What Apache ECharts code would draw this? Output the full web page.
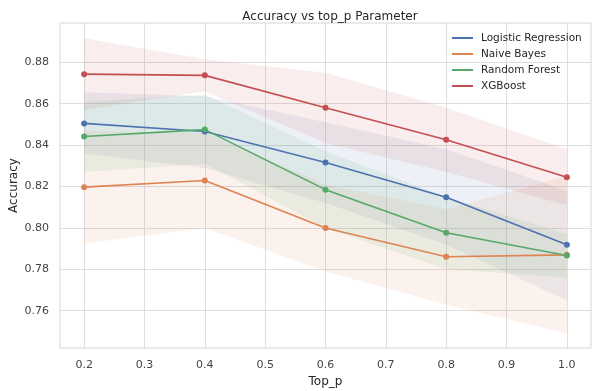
<!DOCTYPE html>
<html>
<head>
<meta charset="utf-8">
<script src="https://cdn.jsdelivr.net/npm/echarts@6/dist/echarts.min.js"></script>
<style>
  html, body { margin: 0; padding: 0; background: #fff; }
  #chart { width: 592px; height: 391px; }
</style>
</head>
<body>
<div id="chart"></div>
<script>
// x values (top_p)
const topP = [0.2, 0.4, 0.6, 0.8, 1.0]
const xTicks = [0.2, 0.3, 0.4, 0.5, 0.6, 0.7, 0.8, 0.9, 1.0]
const yTicks = [0.76, 0.78, 0.80, 0.82, 0.84, 0.86, 0.88]

// mean accuracy per model
const lrMean = [0.8505, 0.8466, 0.8316, 0.8148, 0.7919]
const nbMean = [0.8197, 0.8229, 0.8000, 0.7861, 0.7870]
const rfMean = [0.8442, 0.8475, 0.8185, 0.7977, 0.7867]
const xgbMean = [0.8743, 0.8737, 0.8581, 0.8426, 0.8245]

// confidence band bounds
const lrLow = [0.8360, 0.8290, 0.8120, 0.7920, 0.7650]
const lrHigh = [0.8655, 0.8636, 0.8510, 0.8380, 0.8180]
const nbLow = [0.7925, 0.8000, 0.7790, 0.7630, 0.7490]
const nbHigh = [0.8470, 0.8460, 0.8210, 0.8090, 0.8250]
const rfLow = [0.8270, 0.8310, 0.8000, 0.7800, 0.7760]
const rfHigh = [0.8610, 0.8645, 0.8370, 0.8150, 0.7970]
const xgbLow = [0.8570, 0.8660, 0.8410, 0.8270, 0.8110]
const xgbHigh = [0.8916, 0.8815, 0.8750, 0.8580, 0.8380]

const models = [
    { name: 'Logistic Regression', color: '#4c72b0', mean: lrMean, low: lrLow, high: lrHigh },
    { name: 'Naive Bayes', color: '#dd8452', mean: nbMean, low: nbLow, high: nbHigh },
    { name: 'Random Forest', color: '#55a868', mean: rfMean, low: rfLow, high: rfHigh },
    { name: 'XGBoost', color: '#c44e52', mean: xgbMean, low: xgbLow, high: xgbHigh }
]

const font = 'DejaVu Sans'
const chart = echarts.init(document.getElementById('chart'))

function bandSeries (m) {
    const data = topP.map((x, i) => [x, m.low[i], m.high[i]])
    return {
        type: 'custom',
        name: m.name + ' band',
        silent: true,
        clip: true,
        z: 1,
        data: data,
        encode: { x: 0, y: [1, 2] },
        renderItem (params, api) {
            if (params.dataIndex !== 0) return
            const upper = data.map(d => api.coord([d[0], d[2]]))
            const lower = data.map(d => api.coord([d[0], d[1]])).reverse()
            return {
                type: 'polygon',
                shape: { points: upper.concat(lower) },
                style: { fill: m.color, opacity: 0.1 }
            }
        }
    }
}

function lineSeries (m) {
    return {
        type: 'line',
        name: m.name,
        z: 3,
        data: topP.map((x, i) => [x, m.mean[i]]),
        symbol: 'circle',
        symbolSize: 6,
        lineStyle: { color: m.color, width: 1.6 },
        itemStyle: { color: m.color },
        emphasis: { disabled: true }
    }
}

const option = {
    animation: false,
    backgroundColor: '#ffffff',
    title: {
        text: 'Accuracy vs top_p Parameter',
        left: 325,
        textAlign: 'center',
        top: 6,
        textStyle: { fontFamily: font, fontSize: 12, fontWeight: 'normal', color: '#262626' }
    },
    legend: {
        orient: 'vertical',
        left: 452,
        top: 31,
        padding: 0,
        itemWidth: 21,
        itemHeight: 2,
        itemGap: 2,
        icon: 'rect',
        data: models.map(m => m.name),
        textStyle: { fontFamily: font, fontSize: 10.5, color: '#262626', lineHeight: 14, padding: [0, 0, 0, 3] }
    },
    grid: {
        left: 60,
        right: 1,
        top: 23,
        bottom: 43,
        outerBoundsMode: 'none',
        containLabel: false,
        show: true,
        borderColor: '#d6d6d6',
        borderWidth: 1,
        backgroundColor: 'transparent'
    },
    xAxis: {
        type: 'value',
        min: 0.16,
        max: 1.04,
        name: 'Top_p',
        nameLocation: 'middle',
        nameGap: 28,
        nameTextStyle: { fontFamily: font, fontSize: 12, color: '#262626' },
        axisLine: { show: false },
        axisTick: { show: false, customValues: xTicks },
        axisLabel: {
            customValues: xTicks,
            margin: 12,
            fontFamily: font,
            fontSize: 11,
            color: '#444',
            formatter: v => v.toFixed(1)
        },
        splitLine: { show: true, lineStyle: { color: '#dedede', width: 1 } }
    },
    yAxis: {
        type: 'value',
        min: 0.742,
        max: 0.899,
        name: 'Accuracy',
        nameLocation: 'middle',
        nameGap: 40,
        nameMoveOverlap: false,
        nameTextStyle: { fontFamily: font, fontSize: 12, color: '#262626' },
        axisLine: { show: false },
        axisTick: { show: false, customValues: yTicks },
        axisLabel: {
            customValues: yTicks,
            margin: 11,
            fontFamily: font,
            fontSize: 11,
            color: '#444',
            formatter: v => v.toFixed(2)
        },
        splitLine: { show: true, lineStyle: { color: '#dedede', width: 1 } }
    },
    series: models.map(bandSeries).concat(models.map(lineSeries))
}

chart.setOption(option)
</script>
</body>
</html>
